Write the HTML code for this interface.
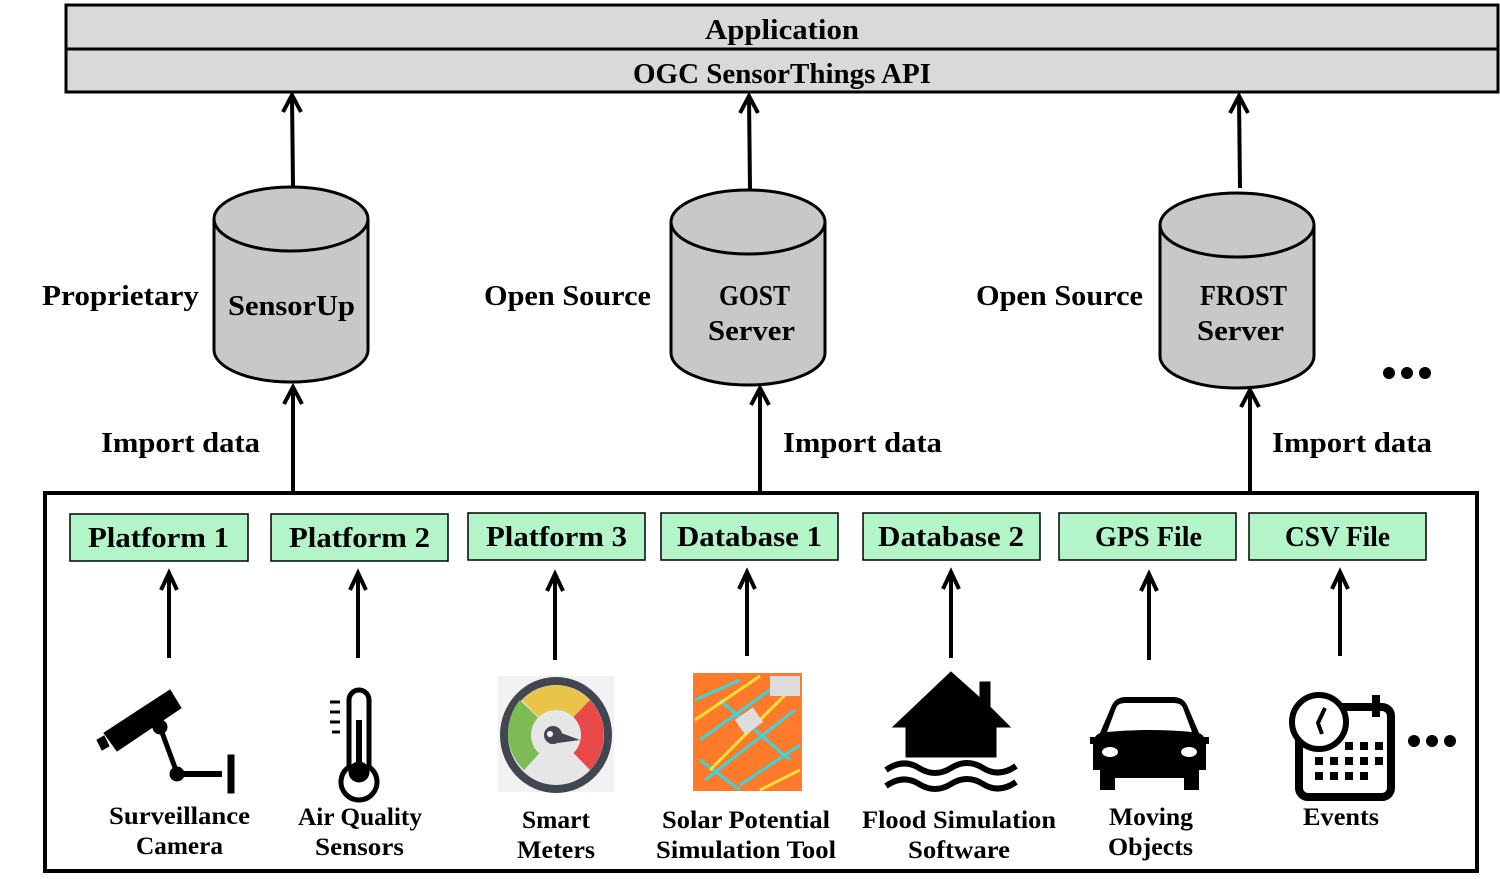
<!DOCTYPE html>
<html><head><meta charset="utf-8"><style>
body{margin:0;background:#fff}
svg{display:block}
text{font-family:"Liberation Serif",serif;font-weight:bold;fill:#000}
</style></head><body>
<svg width="1500" height="879" viewBox="0 0 1500 879" xmlns="http://www.w3.org/2000/svg">
<!-- top box -->
<rect x="66" y="5" width="1432" height="87" fill="#d9d9d9" stroke="#000" stroke-width="3"/>
<line x1="66" y1="49" x2="1498" y2="49" stroke="#000" stroke-width="3"/>
<g font-size="28" lengthAdjust="spacingAndGlyphs">
<text x="705" y="39" textLength="154" lengthAdjust="spacingAndGlyphs">Application</text>
<text x="633" y="83" textLength="298" lengthAdjust="spacingAndGlyphs">OGC SensorThings API</text>
</g>

<!-- cylinders -->
<g stroke="#000" stroke-width="3" fill="#c8c8c8">
<path d="M214,219 V350 A77,32 0 0 0 368,350 V219"/>
<ellipse cx="291" cy="219" rx="77" ry="32"/>
<path d="M671,222 V353 A77,32 0 0 0 825,353 V222"/>
<ellipse cx="748" cy="222" rx="77" ry="32"/>
<path d="M1160,225 V356 A77,32 0 0 0 1314,356 V225"/>
<ellipse cx="1237" cy="225" rx="77" ry="32"/>
</g>
<g font-size="28">
<text x="228" y="315" textLength="127" lengthAdjust="spacingAndGlyphs">SensorUp</text>
<text x="719" y="305" textLength="71" lengthAdjust="spacingAndGlyphs">GOST</text>
<text x="708" y="340" textLength="87" lengthAdjust="spacingAndGlyphs">Server</text>
<text x="1200" y="305" textLength="87" lengthAdjust="spacingAndGlyphs">FROST</text>
<text x="1197" y="340" textLength="87" lengthAdjust="spacingAndGlyphs">Server</text>
<text x="42" y="305" textLength="157" lengthAdjust="spacingAndGlyphs">Proprietary</text>
<text x="484" y="305" textLength="167" lengthAdjust="spacingAndGlyphs">Open Source</text>
<text x="976" y="305" textLength="167" lengthAdjust="spacingAndGlyphs">Open Source</text>
<text x="101" y="452" textLength="159" lengthAdjust="spacingAndGlyphs">Import data</text>
<text x="783" y="452" textLength="159" lengthAdjust="spacingAndGlyphs">Import data</text>
<text x="1272" y="452" textLength="160" lengthAdjust="spacingAndGlyphs">Import data</text>
</g>
<g fill="#000"><circle cx="1389" cy="373" r="6"/><circle cx="1407" cy="373" r="6"/><circle cx="1425" cy="373" r="6"/></g>

<!-- arrows -->
<g stroke="#000" stroke-width="4" fill="none">
<line x1="293" y1="186" x2="292" y2="96"/><polyline points="283,112 292,95 301,112"/>
<line x1="750" y1="189" x2="749" y2="97"/><polyline points="740,113 749,96 758,113"/>
<line x1="1240" y1="188" x2="1239" y2="97"/><polyline points="1230,113 1239,96 1248,113"/>
<line x1="293" y1="492" x2="293" y2="388"/><polyline points="284,404 293,387 302,404"/>
<line x1="760" y1="492" x2="760" y2="389"/><polyline points="751,405 760,388 769,405"/>
<line x1="1250" y1="492" x2="1250" y2="391"/><polyline points="1241,407 1250,390 1259,407"/>
</g>

<!-- bottom box -->
<rect x="45" y="493" width="1432" height="378" fill="none" stroke="#000" stroke-width="4"/>
<g fill="#b3f5c8" stroke="#000" stroke-width="1.5">
<rect x="70" y="514" width="178" height="47"/>
<rect x="271" y="514" width="177" height="47"/>
<rect x="468" y="513" width="177" height="47"/>
<rect x="661" y="513" width="177" height="47"/>
<rect x="863" y="513" width="177" height="47"/>
<rect x="1059" y="513" width="177" height="47"/>
<rect x="1249" y="513" width="177" height="47"/>
</g>
<g font-size="28">
<text x="88" y="547" textLength="141" lengthAdjust="spacingAndGlyphs">Platform 1</text>
<text x="289" y="547" textLength="141" lengthAdjust="spacingAndGlyphs">Platform 2</text>
<text x="486" y="546" textLength="141" lengthAdjust="spacingAndGlyphs">Platform 3</text>
<text x="677" y="546" textLength="145" lengthAdjust="spacingAndGlyphs">Database 1</text>
<text x="878" y="546" textLength="146" lengthAdjust="spacingAndGlyphs">Database 2</text>
<text x="1095" y="546" textLength="107" lengthAdjust="spacingAndGlyphs">GPS File</text>
<text x="1285" y="546" textLength="105" lengthAdjust="spacingAndGlyphs">CSV File</text>
</g>
<g stroke="#000" stroke-width="4" fill="none">
<line x1="169" y1="658" x2="169" y2="575"/><polyline points="161,590 169,573 177,590"/>
<line x1="358" y1="658" x2="358" y2="575"/><polyline points="350,590 358,573 366,590"/>
<line x1="555" y1="660" x2="555" y2="576"/><polyline points="547,591 555,574 563,591"/>
<line x1="747" y1="656" x2="747" y2="574"/><polyline points="739,589 747,572 755,589"/>
<line x1="951" y1="658" x2="951" y2="574"/><polyline points="943,589 951,572 959,589"/>
<line x1="1149" y1="660" x2="1149" y2="576"/><polyline points="1141,591 1149,574 1157,591"/>
<line x1="1340" y1="656" x2="1340" y2="574"/><polyline points="1332,589 1340,572 1348,589"/>
</g>

<!-- camera -->
<g fill="#000" stroke="#000">
<polygon points="104,733 170,690 181,708 117,751" />
<polygon points="97,740 104,736 109,746 102,750"/>
<circle cx="160" cy="727" r="7"/>
<line x1="160" y1="727" x2="177" y2="773" stroke-width="5"/>
<circle cx="177" cy="774" r="7"/>
<line x1="177" y1="774" x2="222" y2="774" stroke-width="6"/>
<rect x="228" y="755" width="6" height="38"/>
</g>
<!-- thermometer -->
<g stroke="#000" fill="none">
<path d="M349,767 V700 A10,10 0 0 1 369,700 V767 A18,18 0 1 1 349,767 Z" stroke-width="5"/>
<line x1="359" y1="720" x2="359" y2="765" stroke-width="6"/>
<circle cx="359" cy="772" r="10" fill="#000"/>
<g stroke-width="3"><line x1="330" y1="702" x2="340" y2="702"/><line x1="330" y1="712" x2="340" y2="712"/><line x1="330" y1="722" x2="340" y2="722"/><line x1="332" y1="732" x2="340" y2="732"/></g>
</g>
<!-- gauge -->
<g>
<rect x="498" y="676" width="116" height="116" fill="#f2f2f2"/>
<ellipse cx="556" cy="735" rx="56" ry="58" fill="#414650"/>
<ellipse cx="556" cy="735" rx="48" ry="50" fill="#e6e6e6"/>
<path d="M556,735 L508,735 A48,50 0 0 1 520,700 L556,735 L524,770 A48,50 0 0 1 508,735 Z" fill="#7dbb55"/>
<path d="M556,735 L522,700 A48,50 0 0 1 590,700 Z" fill="#e8c44a"/>
<path d="M556,735 L590,700 A48,50 0 0 1 590,770 Z" fill="#e84848"/>
<circle cx="556" cy="735" r="25" fill="#e6e6e6"/>
<path d="M556,750 L556,770 L524,770 Z" fill="#e6e6e6"/>
<circle cx="553" cy="735" r="9" fill="#414650"/>
<polygon points="548,728 580,740 550,744" fill="#414650"/>
<circle cx="550" cy="734" r="3" fill="#fff"/>
</g>
<!-- solar -->
<g>
<rect x="693" y="673" width="109" height="118" fill="#ff7a2a"/>
<g stroke="#38d6e0" stroke-width="3">
<line x1="695" y1="700" x2="740" y2="680"/><line x1="700" y1="740" x2="770" y2="690"/>
<line x1="705" y1="780" x2="795" y2="710"/><line x1="740" y1="785" x2="800" y2="745"/>
<line x1="720" y1="700" x2="790" y2="760"/><line x1="700" y1="760" x2="740" y2="790"/>
</g>
<g stroke="#ffe03a" stroke-width="3">
<line x1="695" y1="720" x2="760" y2="676"/><line x1="710" y1="770" x2="790" y2="690"/>
<line x1="760" y1="790" x2="800" y2="770"/>
</g>
<rect x="770" y="676" width="30" height="20" fill="#ddd"/>
<rect x="738" y="712" width="22" height="18" fill="#ddd" transform="rotate(-35 749 721)"/>
</g>
<!-- flood house -->
<g fill="#000" stroke="#000">
<polygon points="951,672 893,727 906,727 906,757 996,757 996,727 1010,727 990,707 990,682 980,682 980,698"/>
<path d="M886,770 Q903,758 919,768 Q935,778 951,768 Q967,758 983,768 Q999,778 1016,766" fill="none" stroke-width="6"/>
<path d="M886,786 Q903,774 919,784 Q935,794 951,784 Q967,774 983,784 Q999,794 1016,782" fill="none" stroke-width="6"/>
</g>
<!-- car -->
<g>
<path d="M1100,733 L1112,705 Q1116,697 1126,697 L1173,697 Q1183,697 1187,705 L1199,733 Q1206,736 1206,745 V770 L1199,770 V790 L1184,790 V778 L1115,778 V790 L1100,790 V770 L1093,770 V745 Q1093,736 1100,733 Z" fill="#000"/>
<path d="M1107,732 L1116,708 Q1118,703 1125,703 L1174,703 Q1181,703 1183,708 L1192,732 Q1150,728 1107,732 Z" fill="#fff"/>
<ellipse cx="1110" cy="752" rx="8" ry="5" fill="#fff"/>
<ellipse cx="1189" cy="752" rx="8" ry="5" fill="#fff"/>
<rect x="1090" y="737" width="7" height="7" fill="#000"/>
<rect x="1202" y="737" width="7" height="7" fill="#000"/>
</g>
<!-- events -->
<g>
<rect x="1299" y="707" width="92" height="90" rx="9" fill="none" stroke="#000" stroke-width="8"/>
<circle cx="1319" cy="722" r="27" fill="#fff" stroke="#000" stroke-width="6"/>
<polyline points="1325,708 1318,723 1322,734" fill="none" stroke="#000" stroke-width="4"/>
<rect x="1372" y="695" width="8" height="22" fill="#000"/>
<g fill="#000">
<rect x="1345" y="742" width="8" height="8"/><rect x="1360" y="742" width="8" height="8"/><rect x="1375" y="742" width="8" height="8"/>
<rect x="1315" y="757" width="8" height="8"/><rect x="1330" y="757" width="8" height="8"/><rect x="1345" y="757" width="8" height="8"/><rect x="1360" y="757" width="8" height="8"/><rect x="1375" y="757" width="8" height="8"/>
<rect x="1315" y="772" width="8" height="8"/><rect x="1330" y="772" width="8" height="8"/><rect x="1345" y="772" width="8" height="8"/><rect x="1360" y="772" width="8" height="8"/>
</g>
<g fill="#000"><circle cx="1414" cy="741" r="6"/><circle cx="1432" cy="741" r="6"/><circle cx="1450" cy="741" r="6"/></g>
</g>

<g font-size="25">
<text x="109" y="824" textLength="141" lengthAdjust="spacingAndGlyphs">Surveillance</text>
<text x="136" y="854" textLength="87" lengthAdjust="spacingAndGlyphs">Camera</text>
<text x="298" y="825" textLength="124" lengthAdjust="spacingAndGlyphs">Air Quality</text>
<text x="315" y="855" textLength="89" lengthAdjust="spacingAndGlyphs">Sensors</text>
<text x="522" y="828" textLength="68" lengthAdjust="spacingAndGlyphs">Smart</text>
<text x="517" y="858" textLength="78" lengthAdjust="spacingAndGlyphs">Meters</text>
<text x="662" y="828" textLength="168" lengthAdjust="spacingAndGlyphs">Solar Potential</text>
<text x="656" y="858" textLength="180" lengthAdjust="spacingAndGlyphs">Simulation Tool</text>
<text x="862" y="828" textLength="194" lengthAdjust="spacingAndGlyphs">Flood Simulation</text>
<text x="908" y="858" textLength="102" lengthAdjust="spacingAndGlyphs">Software</text>
<text x="1109" y="825" textLength="84" lengthAdjust="spacingAndGlyphs">Moving</text>
<text x="1108" y="855" textLength="85" lengthAdjust="spacingAndGlyphs">Objects</text>
<text x="1303" y="825" textLength="76" lengthAdjust="spacingAndGlyphs">Events</text>
</g>
</svg>
</body></html>
